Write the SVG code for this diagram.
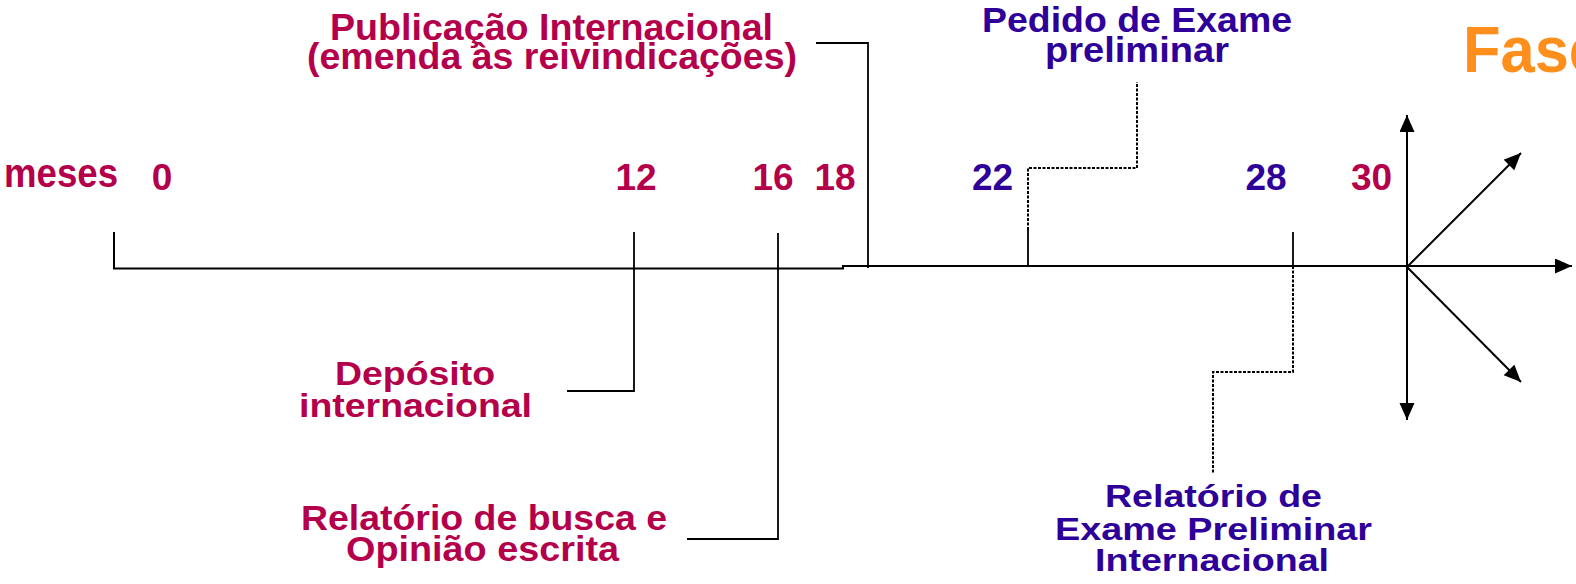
<svg xmlns="http://www.w3.org/2000/svg" width="1576" height="584" viewBox="0 0 1576 584">
<style>
text{font-family:"Liberation Sans",Arial,sans-serif;font-weight:bold}
.m{fill:#B4004B}
.b{fill:#2E0099}
.o{fill:#FF8F1C}
.n{font-size:37px;text-anchor:middle}
.ln{stroke:#000;stroke-width:2;fill:none}
.tk{stroke:#000;stroke-width:1.8;fill:none}
.dt{stroke:#000;stroke-width:2;fill:none;stroke-dasharray:3 1.5}
</style>
<defs>
<marker id="ah" markerUnits="userSpaceOnUse" markerWidth="18" markerHeight="16" refX="17" refY="7.5" orient="auto">
<path d="M0,0 L17,7.5 L0,15 z" fill="#000"/>
</marker>
</defs>
<rect width="1576" height="584" fill="#fff"/>
<g id="connectors">
<path class="ln" d="M114,232 V268.5 H843 V266 H1400" />
<path class="ln" d="M1400,266 H1572" marker-end="url(#ah)"/>
<path class="tk" d="M634,232 V391 H567"/>
<path class="tk" d="M778,233 V539 H687"/>
<path class="tk" d="M816,43 H868 V268"/>
<path class="tk" d="M1028,230 V266"/>
<path class="dt" d="M1028,230 V168 H1137 V82"/>
<path class="tk" d="M1293,232 V266"/>
<path class="dt" d="M1293,266 V372 H1213 V473"/>
<path class="ln" d="M1407,267 V115" marker-end="url(#ah)"/>
<path class="ln" d="M1407,267 V420" marker-end="url(#ah)"/>
<path class="ln" d="M1407,267 L1521,153" marker-end="url(#ah)"/>
<path class="ln" d="M1407,267 L1521,382" marker-end="url(#ah)"/>
</g>
<g id="scale">
<text class="m" x="4" y="187" font-size="41" textLength="114" lengthAdjust="spacingAndGlyphs">meses</text>
<text class="m n" x="162" y="190">0</text>
<text class="m n" x="636" y="190">12</text>
<text class="m n" x="773" y="190">16</text>
<text class="m n" x="835" y="190">18</text>
<text class="b n" x="992.5" y="190">22</text>
<text class="b n" x="1266" y="190">28</text>
<text class="m n" x="1371.5" y="190">30</text>
</g>
<g id="publicacao">
<text class="m" x="330" y="40" font-size="36" textLength="443" lengthAdjust="spacingAndGlyphs">Publicação Internacional</text>
<text class="m" x="307" y="69" font-size="36" textLength="490" lengthAdjust="spacingAndGlyphs">(emenda às reivindicações)</text>
</g>
<g id="pedido">
<text class="b" x="982" y="32" font-size="35" textLength="310" lengthAdjust="spacingAndGlyphs">Pedido de Exame</text>
<text class="b" x="1045" y="62" font-size="35" textLength="184" lengthAdjust="spacingAndGlyphs">preliminar</text>
</g>
<g id="fase">
<text class="o" x="1463" y="72" font-size="64" textLength="140" lengthAdjust="spacingAndGlyphs">Fase</text>
</g>
<g id="deposito">
<text class="m" x="335" y="385" font-size="34" textLength="160" lengthAdjust="spacingAndGlyphs">Depósito</text>
<text class="m" x="299" y="417" font-size="34" textLength="233" lengthAdjust="spacingAndGlyphs">internacional</text>
</g>
<g id="relatorio-busca">
<text class="m" x="301" y="530" font-size="35" textLength="366" lengthAdjust="spacingAndGlyphs">Relatório de busca e</text>
<text class="m" x="346" y="561" font-size="35" textLength="273" lengthAdjust="spacingAndGlyphs">Opinião escrita</text>
</g>
<g id="relatorio-exame">
<text class="b" x="1105" y="507" font-size="32" textLength="217" lengthAdjust="spacingAndGlyphs">Relatório de</text>
<text class="b" x="1055" y="540" font-size="32" textLength="317" lengthAdjust="spacingAndGlyphs">Exame Preliminar</text>
<text class="b" x="1095" y="571" font-size="32" textLength="234" lengthAdjust="spacingAndGlyphs">Internacional</text>
</g>
</svg>
